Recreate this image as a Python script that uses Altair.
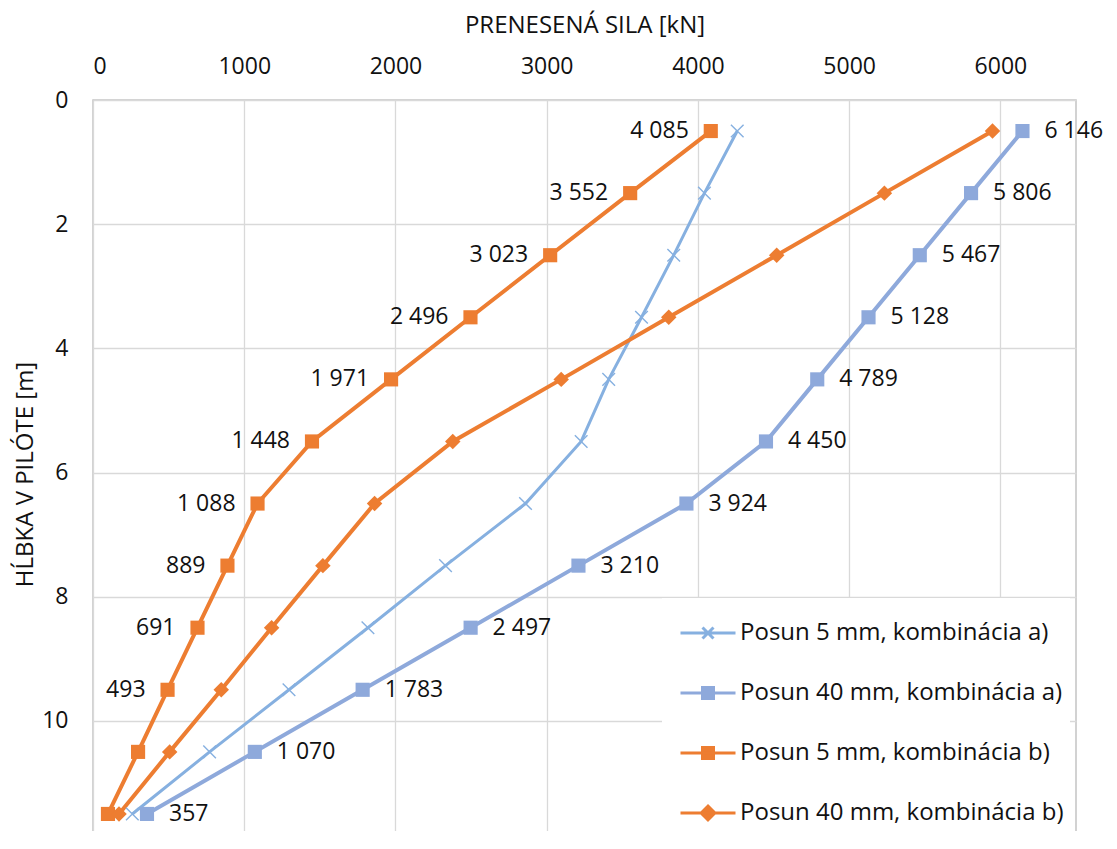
import altair as alt
import pandas as pd

# ---------------- data ----------------
depths = [0.5, 1.5, 2.5, 3.5, 4.5, 5.5, 6.5, 7.5, 8.5, 9.5, 10.5, 11.5]

series_names = [
    "Posun 5 mm, kombinácia a)",
    "Posun 40 mm, kombinácia a)",
    "Posun 5 mm, kombinácia b)",
    "Posun 40 mm, kombinácia b)",
]

posun5_a = [4260, 4043, 3840, 3627, 3410, 3228, 2860, 2331, 1818, 1296, 771, 260]
posun40_a = [6146, 5806, 5467, 5128, 4789, 4450, 3924, 3210, 2497, 1783, 1070, 357]
posun5_b = [4085, 3552, 3023, 2496, 1971, 1448, 1088, 889, 691, 493, 298, 99]
posun40_b = [5948, 5233, 4521, 3807, 3096, 2379, 1862, 1520, 1181, 848, 507, 172]

labels40_a = ["6 146", "5 806", "5 467", "5 128", "4 789", "4 450",
              "3 924", "3 210", "2 497", "1 783", "1 070", "357"]
labels5_b = ["4 085", "3 552", "3 023", "2 496", "1 971", "1 448",
             "1 088", "889", "691", "493", "", ""]

x_ticks = [0, 1000, 2000, 3000, 4000, 5000, 6000]
y_ticks = [0, 2, 4, 6, 8, 10, 12]

series_colors = ["#86B0E0", "#8EA9DB", "#ED7D31", "#ED7D31"]
line_widths = [3, 4, 4, 4]

# ---------------- table ----------------
rows = []
vals = [posun5_a, posun40_a, posun5_b, posun40_b]
labs = [[""] * 12, labels40_a, labels5_b, [""] * 12]
for name, v, lab in zip(series_names, vals, labs):
    for d, x, l in zip(depths, v, lab):
        rows.append({"series": name, "depth": d, "value": x, "label": l})
df = pd.DataFrame(rows)

FONT = "Open Sans"
TXT = "#111111"
FS = 23
FS_BIG = 24

X = alt.X(
    "value:Q",
    scale=alt.Scale(domain=[0, 6500], nice=False, zero=False),
    axis=alt.Axis(
        orient="top", values=x_ticks, format="d", title="PRENESENÁ SILA [kN]",
        labelPadding=22, titleY=-75, titleBaseline="middle",
    ),
)
Y = alt.Y(
    "depth:Q",
    scale=alt.Scale(domain=[0, 12], reverse=True, nice=False, zero=False),
    axis=alt.Axis(
        values=y_ticks, format="d", title="HĹBKA V PILÓTE [m]",
        labelPadding=25, titleX=-68, titleY=374, titleAngle=-90,
        titleBaseline="middle", titleAlign="center",
    ),
)

base = alt.Chart(df)
layers = []
for name, col, lw in zip(series_names, series_colors, line_widths):
    layers.append(
        base.transform_filter(alt.datum.series == name)
        .mark_line(color=col, strokeWidth=lw)
        .encode(x=X, y=Y, order="depth:Q")
    )

xpath = "M-1,-1L1,1M-1,1L1,-1"
layers.append(
    base.transform_filter(alt.datum.series == series_names[0])
    .mark_point(shape=xpath, size=160, filled=False, strokeWidth=1.4,
                color=series_colors[0], opacity=1)
    .encode(x=X, y=Y)
)
layers.append(
    base.transform_filter(alt.datum.series == series_names[1])
    .mark_square(size=200, color=series_colors[1], opacity=1)
    .encode(x=X, y=Y)
)
layers.append(
    base.transform_filter(alt.datum.series == series_names[2])
    .mark_square(size=200, color=series_colors[2], opacity=1)
    .encode(x=X, y=Y)
)
layers.append(
    base.transform_filter(alt.datum.series == series_names[3])
    .mark_point(shape="diamond", size=240, filled=True,
                color=series_colors[3], opacity=1)
    .encode(x=X, y=Y)
)
layers.append(
    base.transform_filter((alt.datum.series == series_names[1]) & (alt.datum.label != ""))
    .mark_text(align="left", baseline="middle", dx=22, font=FONT, fontSize=FS, color=TXT)
    .encode(x=X, y=Y, text="label:N")
)
layers.append(
    base.transform_filter((alt.datum.series == series_names[2]) & (alt.datum.label != ""))
    .mark_text(align="right", baseline="middle", dx=-22, font=FONT, fontSize=FS, color=TXT)
    .encode(x=X, y=Y, text="label:N")
)

# legend symbols: a line segment with the series marker
sym_paths = [
    "M-1,0L1,0M-0.2,-0.2L0.2,0.2M-0.2,0.2L0.2,-0.2",
    "M-1,0L1,0M-0.2,-0.2L0.2,-0.2L0.2,0.2L-0.2,0.2Z",
    "M-1,0L1,0M-0.2,-0.2L0.2,-0.2L0.2,0.2L-0.2,0.2Z",
    "M-1,0L1,0M0,-0.25L0.25,0L0,0.25L-0.25,0Z",
]
leg = alt.Legend(
    title=None, orient="none", legendX=569, legendY=498, direction="vertical",
    fillColor="white", padding=6, symbolSize=3025, symbolStrokeWidth=3,
    symbolOffset=11, labelOffset=3, labelFont=FONT, labelFontSize=FS_BIG,
    labelColor=TXT, labelLimit=0, rowPadding=19,
)
layers.append(
    base.transform_filter("false")
    .mark_point(filled=True, opacity=1, strokeWidth=3)
    .encode(
        x=X, y=Y,
        shape=alt.Shape("series:N", scale=alt.Scale(domain=series_names, range=sym_paths), legend=leg),
        color=alt.Color("series:N", scale=alt.Scale(domain=series_names, range=series_colors), legend=leg),
        stroke=alt.Stroke("series:N", scale=alt.Scale(domain=series_names, range=series_colors), legend=leg),
    )
)

chart = (
    alt.layer(*layers)
    .properties(
        width=983, height=745,
        padding={"left": 85, "top": 92, "right": 28, "bottom": -14},
        autosize=alt.AutoSizeParams(type="none"),
        background="white",
    )
    .configure_view(stroke="#C4C4C4", strokeWidth=1.5)
    .configure_axis(
        grid=True, gridColor="#D9D9D9", gridWidth=1.3, domain=False, ticks=False, tickSize=0,
        labelFont=FONT, labelFontSize=FS, labelColor=TXT,
        titleFont=FONT, titleFontSize=FS_BIG, titleColor=TXT, titleFontWeight="normal",
    )
)

chart.save("out.html", embed_options={"renderer": "svg", "actions": False})
